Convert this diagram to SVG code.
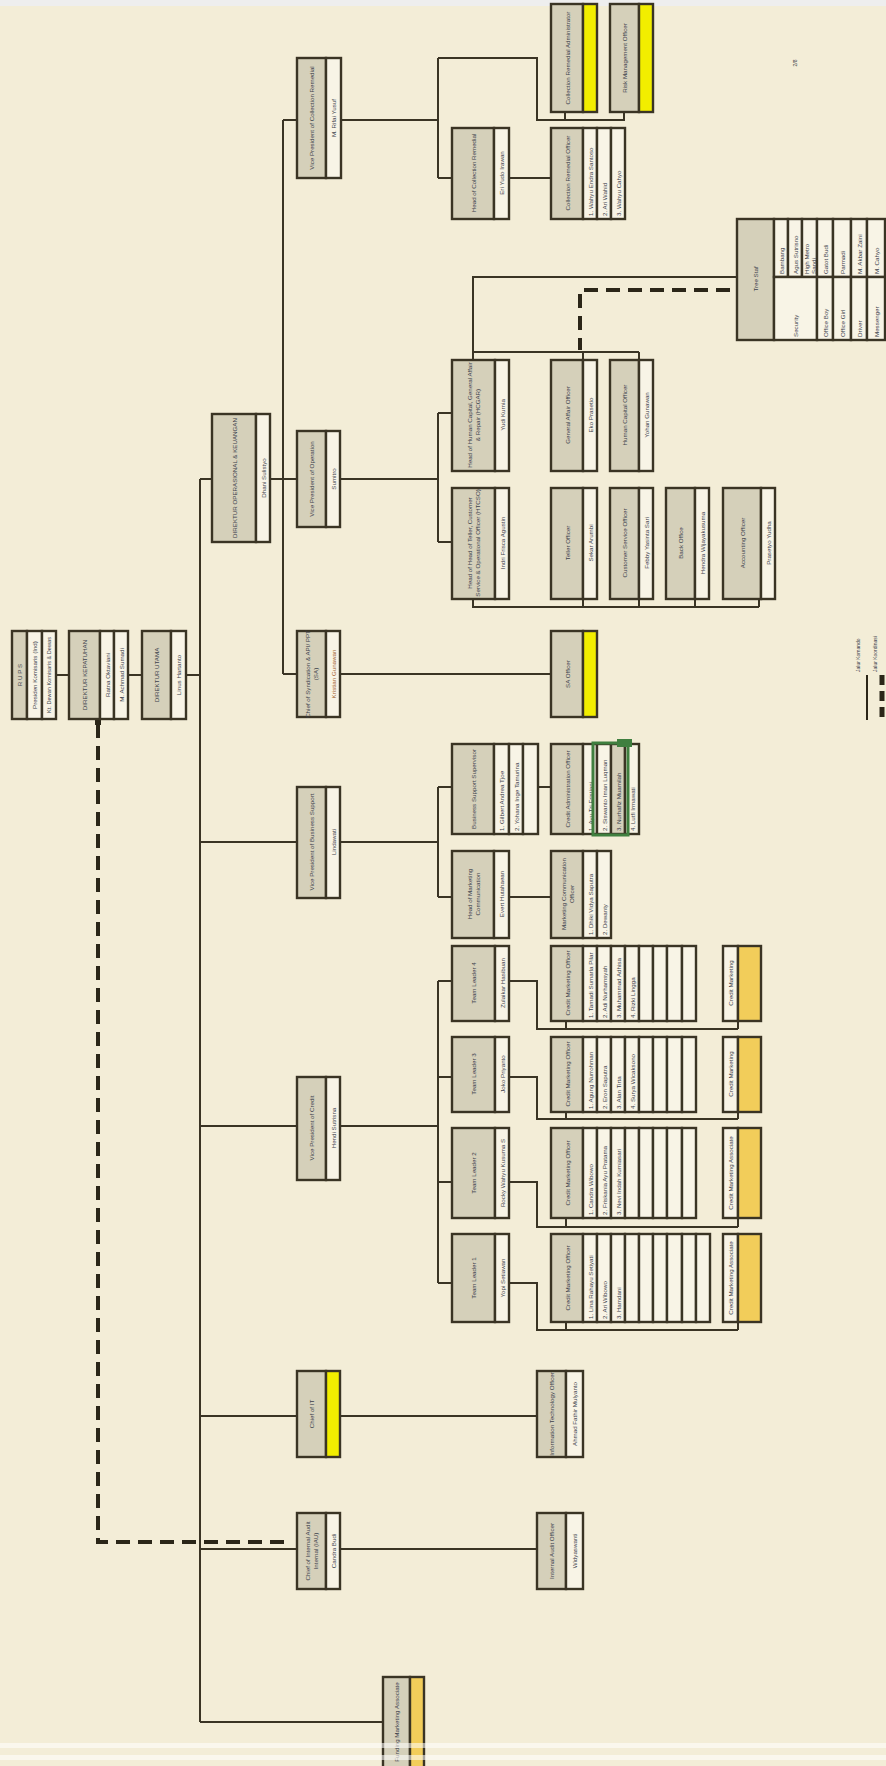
<svg xmlns="http://www.w3.org/2000/svg" width="886" height="1766" viewBox="0 0 886 1766">
<style>
.t{fill:#D5D0BA;stroke:#3a3424;stroke-width:2.4}
.n{fill:#F8F4E6;stroke:#3a3424;stroke-width:2.4}
.y{fill:#F2EE00;stroke:#3a3424;stroke-width:2.4}
.o{fill:#F2CD5A;stroke:#3a3424;stroke-width:2.4}
.ln{stroke:#3a3424;stroke-width:2;fill:none}
.dash{stroke:#2b2618;stroke-width:4;fill:none;stroke-dasharray:14 8}
text{font-family:"Liberation Sans Narrow","Liberation Sans",Arial,sans-serif;font-size:6.2px;fill:#3c3f4c;dominant-baseline:central}
.c{text-anchor:middle}
.s{text-anchor:start}
.or{fill:#a0602e}
</style>
<rect x="0" y="0" width="886" height="1766" fill="#F3EDD7"/>
<rect x="0" y="0" width="886" height="6" fill="#EEEEEE"/>
<g id="connectors">
<path class="ln" d="M56 675H69 M128 675H142 M186 675H200 M200 479V1722 M200 479H212 M270 479H297 M283 120V674 M283 120H297 M283 674H297"/>
<path class="ln" d="M341 120H438 M438 58V178 M438 58H537V120H625 M565 112V120 M624 112V120 M438 178H452 M509 178H551"/>
<path class="ln" d="M340 479H438 M438 413V542 M438 413H452 M438 542H452 M473 360V277H737 M473 352H639 M583 352V360 M639 352V360 M473 599V607H759 M583 599V607 M639 599V607 M695 599V607 M759 599V607"/>
<path class="ln" d="M340 674H551"/>
<path class="ln" d="M200 842H297 M340 842H438 M438 787V897 M438 787H452 M438 897H452 M538 787H551 M509 897H551"/>
<path class="ln" d="M200 1126H297 M340 1126H438 M438 981V1283 M438 981H452 M509 981H537V1029H738 M566 1021V1029 M738 1021V1029 M438 1077H452 M509 1077H537V1119H738 M566 1112V1119 M738 1112V1119 M438 1182H452 M509 1182H537V1227H738 M566 1218V1227 M738 1218V1227 M438 1283H452 M509 1283H537V1330H738 M566 1322V1330 M738 1322V1330"/>
<path class="ln" d="M200 1416H297 M340 1416H537 M200 1549H297 M340 1549H537 M200 1722H383"/>
<path class="dash" d="M98 724V1542H288"/>
<rect x="95" y="719" width="6" height="6" fill="#2b2618"/>
<path class="dash" d="M730 290H580V350"/>
</g>
<g id="rups"><rect class="t" x="12" y="631" width="15" height="88"/><rect class="n" x="27" y="631" width="15" height="88"/><rect class="n" x="42" y="631" width="14" height="88"/>
<text class="c" transform="translate(19.5,675) rotate(-90)">R U P S</text><text class="c" transform="translate(34.5,675) rotate(-90)">Presiden Komisaris (Ind)</text><text class="c" transform="translate(49,675) rotate(-90)" style="font-size:5.6px">Kt. Dewan Komisaris &amp; Dewas</text></g>
<g id="dir-kepatuhan"><rect class="t" x="69" y="631" width="31" height="88"/><rect class="n" x="100" y="631" width="14" height="88"/><rect class="n" x="114" y="631" width="14" height="88"/>
<text class="c" transform="translate(84.5,675) rotate(-90)">DIREKTUR KEPATUHAN</text><text class="c" transform="translate(107,675) rotate(-90)">Ratna Oktaviani</text><text class="c" transform="translate(121,675) rotate(-90)">M. Achmad Sumadi</text></g>
<g id="dir-utama"><rect class="t" x="142" y="631" width="29" height="88"/><rect class="n" x="171" y="631" width="15" height="88"/>
<text class="c" transform="translate(156.5,675) rotate(-90)">DIREKTUR UTAMA</text><text class="c" transform="translate(178.5,675) rotate(-90)">Linus Hartanto</text></g>
<g id="dir-ops"><rect class="t" x="212" y="414" width="44" height="128"/><rect class="n" x="256" y="414" width="14" height="128"/>
<text class="c" transform="translate(234,478) rotate(-90)">DIREKTUR OPERASIONAL &amp; KEUANGAN</text><text class="c" transform="translate(263,478) rotate(-90)">Dhani Sulistyo</text></g>
<g id="vp-collection"><rect class="t" x="297" y="58" width="29" height="120"/><rect class="n" x="326" y="58" width="15" height="120"/>
<text class="c" transform="translate(311.5,118) rotate(-90)">Vice President of Collection Remedial</text><text class="c" transform="translate(333.5,118) rotate(-90)">M. Rifai Yusuf</text></g>
<g id="coll-admin"><rect class="t" x="551" y="4" width="32" height="108"/><rect class="y" x="583" y="4" width="14" height="108"/>
<text class="c" transform="translate(567,58) rotate(-90)">Collection Remedial Administrator</text></g>
<g id="risk-mgmt"><rect class="t" x="610" y="4" width="29" height="108"/><rect class="y" x="639" y="4" width="14" height="108"/>
<text class="c" transform="translate(624.5,58) rotate(-90)">Risk Management Officer</text></g>
<g id="head-coll"><rect class="t" x="452" y="128" width="42" height="91"/><rect class="n" x="494" y="128" width="15" height="91"/>
<text class="c" transform="translate(473,173) rotate(-90)">Head of Collection Remedial</text><text class="c" transform="translate(501.5,173) rotate(-90)">Eri Yudo Irawan</text></g>
<g id="coll-officer"><rect class="t" x="551" y="128" width="32" height="91"/><rect class="n" x="583" y="128" width="14" height="91"/><rect class="n" x="597" y="128" width="14" height="91"/><rect class="n" x="611" y="128" width="14" height="91"/>
<text class="c" transform="translate(567,173) rotate(-90)">Collection Remedial Officer</text><text class="s" transform="translate(590,216) rotate(-90)">1. Wahyu Endra Santoso</text><text class="s" transform="translate(604,216) rotate(-90)">2. Ari Wahid</text><text class="s" transform="translate(618,216) rotate(-90)">3. Wahyu Cahyo</text></g>
<g id="vp-ops"><rect class="t" x="297" y="431" width="29" height="96"/><rect class="n" x="326" y="431" width="14" height="96"/>
<text class="c" transform="translate(311.5,479) rotate(-90)">Vice President of Operation</text><text class="c" transform="translate(333,479) rotate(-90)">Sumitro</text></g>
<g id="head-hcgar"><rect class="t" x="452" y="360" width="43" height="111"/><rect class="n" x="495" y="360" width="14" height="111"/>
<text class="c" transform="translate(469.5,415) rotate(-90)">Head of Human Capital, General Affair</text><text class="c" transform="translate(477.5,415) rotate(-90)">&amp; Repair (HCGAR)</text><text class="c" transform="translate(502,415) rotate(-90)">Yudi Kurnia</text></g>
<g id="ga-officer"><rect class="t" x="551" y="360" width="32" height="111"/><rect class="n" x="583" y="360" width="14" height="111"/>
<text class="c" transform="translate(567,415) rotate(-90)">General Affair Officer</text><text class="c" transform="translate(590,415) rotate(-90)">Eko Prasetio</text></g>
<g id="hc-officer"><rect class="t" x="610" y="360" width="29" height="111"/><rect class="n" x="639" y="360" width="14" height="111"/>
<text class="c" transform="translate(624.5,415) rotate(-90)">Human Capital Officer</text><text class="c" transform="translate(646,415) rotate(-90)">Yohan Gunawan</text></g>
<g id="head-htcso"><rect class="t" x="452" y="488" width="43" height="111"/><rect class="n" x="495" y="488" width="14" height="111"/>
<text class="c" transform="translate(469.5,543) rotate(-90)">Head of Head of Teller, Customer</text><text class="c" transform="translate(477.5,543) rotate(-90)">Service &amp; Operational Officer (HTCSO)</text><text class="c" transform="translate(502,543) rotate(-90)">Indri Frisca Agustin</text></g>
<g id="teller"><rect class="t" x="551" y="488" width="32" height="111"/><rect class="n" x="583" y="488" width="14" height="111"/>
<text class="c" transform="translate(567,543) rotate(-90)">Teller Officer</text><text class="c" transform="translate(590,543) rotate(-90)">Sekar Arumbi</text></g>
<g id="cs-officer"><rect class="t" x="610" y="488" width="29" height="111"/><rect class="n" x="639" y="488" width="14" height="111"/>
<text class="c" transform="translate(624.5,543) rotate(-90)">Customer Service Officer</text><text class="c" transform="translate(646,543) rotate(-90)">Febby Yasinta Sari</text></g>
<g id="back-office"><rect class="t" x="666" y="488" width="29" height="111"/><rect class="n" x="695" y="488" width="14" height="111"/>
<text class="c" transform="translate(680.5,543) rotate(-90)">Back Office</text><text class="c" transform="translate(702,543) rotate(-90)">Hendra Wijayakusuma</text></g>
<g id="accounting"><rect class="t" x="723" y="488" width="38" height="111"/><rect class="n" x="761" y="488" width="14" height="111"/>
<text class="c" transform="translate(742,543) rotate(-90)">Accounting Officer</text><text class="c" transform="translate(768,543) rotate(-90)">Prasetyo Yudha</text></g>
<g id="tree-staf"><rect class="t" x="737" y="219" width="37" height="121"/>
<rect class="n" x="774" y="219" width="14" height="58"/><rect class="n" x="788" y="219" width="14" height="58"/><rect class="n" x="802" y="219" width="15" height="58"/><rect class="n" x="817" y="219" width="16" height="58"/><rect class="n" x="833" y="219" width="18" height="58"/><rect class="n" x="851" y="219" width="16" height="58"/><rect class="n" x="867" y="219" width="18" height="58"/>
<rect class="n" x="774" y="277" width="43" height="63"/><rect class="n" x="817" y="277" width="16" height="63"/><rect class="n" x="833" y="277" width="18" height="63"/><rect class="n" x="851" y="277" width="16" height="63"/><rect class="n" x="867" y="277" width="18" height="63"/>
<text class="c" transform="translate(755.5,279) rotate(-90)">Tree Staf</text>
<text class="s" transform="translate(781,274) rotate(-90)">Bambang</text><text class="s" transform="translate(795,274) rotate(-90)">Agus Sutrisno</text><text class="s" transform="translate(806,274) rotate(-90)">High Metro</text><text class="s" transform="translate(813,274) rotate(-90)">Sandi</text><text class="s" transform="translate(825,274) rotate(-90)">Gatot Budi</text><text class="s" transform="translate(842,274) rotate(-90)">Parmadi</text><text class="s" transform="translate(859,274) rotate(-90)">M. Akbar Zaini</text><text class="s" transform="translate(876,274) rotate(-90)">M. Cahyo</text>
<text class="s" transform="translate(795.5,337) rotate(-90)">Security</text><text class="s" transform="translate(825,337) rotate(-90)">Office Boy</text><text class="s" transform="translate(842,337) rotate(-90)">Office Girl</text><text class="s" transform="translate(859,337) rotate(-90)">Driver</text><text class="s" transform="translate(876,337) rotate(-90)">Messenger</text></g>
<g id="chief-syndication"><rect class="t" x="297" y="631" width="29" height="86"/><rect class="n" x="326" y="631" width="14" height="86"/>
<text class="c" transform="translate(307.5,674) rotate(-90)">Chief of Syndication &amp; API/ PPT</text><text class="c" transform="translate(315.5,674) rotate(-90)">(SA)</text><text class="c or" transform="translate(333,674) rotate(-90)">Kristian Gunawan</text></g>
<g id="sa-officer"><rect class="t" x="551" y="631" width="32" height="86"/><rect class="y" x="583" y="631" width="14" height="86"/>
<text class="c" transform="translate(567,674) rotate(-90)">SA Officer</text></g>
<g id="vp-bs"><rect class="t" x="297" y="787" width="29" height="111"/><rect class="n" x="326" y="787" width="14" height="111"/>
<text class="c" transform="translate(311.5,842) rotate(-90)">Vice President of Business Support</text><text class="c" transform="translate(333,842) rotate(-90)">Lindawati</text></g>
<g id="bs-supervisor"><rect class="t" x="452" y="744" width="42" height="90"/><rect class="n" x="494" y="744" width="15" height="90"/><rect class="n" x="509" y="744" width="14" height="90"/><rect class="n" x="523" y="744" width="15" height="90"/>
<text class="c" transform="translate(473,789) rotate(-90)">Business Support Supervisor</text><text class="s" transform="translate(501.5,831) rotate(-90)">1. Gilbert Andrea Tjoe</text><text class="s" transform="translate(516,831) rotate(-90)">2. Yohana Inge Tamurina</text></g>
<g id="credit-admin"><rect class="t" x="551" y="744" width="32" height="90"/><rect class="n" x="583" y="744" width="14" height="90"/><rect class="n" x="597" y="744" width="14" height="90"/><rect class="t" x="611" y="744" width="14" height="90"/><rect class="n" x="625" y="744" width="14" height="90"/>
<text class="c" transform="translate(567,789) rotate(-90)">Credit Administration Officer</text><text class="s" transform="translate(590,831) rotate(-90)">1. Ayu Tri Fristiani</text><text class="s" transform="translate(604,831) rotate(-90)">2. Siswanto Iman Luqman</text><text class="s" transform="translate(618,831) rotate(-90)">3. Nurhafiz Muamilah</text><text class="s" transform="translate(632,831) rotate(-90)">4. Lutfi Irmawati</text>
<rect x="593" y="743" width="35" height="92" fill="none" stroke="#3f7f3f" stroke-width="3"/><rect x="617" y="739" width="15" height="8" fill="#3f7f3f"/></g>
<g id="head-mktcomm"><rect class="t" x="452" y="851" width="42" height="87"/><rect class="n" x="494" y="851" width="15" height="87"/>
<text class="c" transform="translate(469,894) rotate(-90)">Head of Marketing</text><text class="c" transform="translate(477,894) rotate(-90)">Communication</text><text class="c" transform="translate(501.5,894) rotate(-90)">Evert Hutahaean</text></g>
<g id="mktcomm-officer"><rect class="t" x="551" y="851" width="32" height="87"/><rect class="n" x="583" y="851" width="14" height="87"/><rect class="n" x="597" y="851" width="14" height="87"/>
<text class="c" transform="translate(563,894) rotate(-90)">Marketing Communication</text><text class="c" transform="translate(571,894) rotate(-90)">Officer</text><text class="s" transform="translate(590,935) rotate(-90)">1. Dhiki Vidya Saputra</text><text class="s" transform="translate(604,935) rotate(-90)">2. Dewanty</text></g>
<g id="vp-credit"><rect class="t" x="297" y="1077" width="29" height="103"/><rect class="n" x="326" y="1077" width="14" height="103"/>
<text class="c" transform="translate(311.5,1128) rotate(-90)">Vice President of Credit</text><text class="c" transform="translate(333,1128) rotate(-90)">Hendi Sutrisna</text></g>
<g id="tl4"><rect class="t" x="452" y="946" width="43" height="75"/><rect class="n" x="495" y="946" width="14" height="75"/>
<text class="c" transform="translate(473.5,983) rotate(-90)">Team Leader 4</text><text class="c" transform="translate(502,983) rotate(-90)">Zulaikar Hasibuan</text></g>
<g id="cmo4"><rect class="t" x="551" y="946" width="32" height="75"/><rect class="n" x="583" y="946" width="14" height="75"/><rect class="n" x="597" y="946" width="14" height="75"/><rect class="n" x="611" y="946" width="14" height="75"/><rect class="n" x="625" y="946" width="14" height="75"/><rect class="n" x="639" y="946" width="14" height="75"/><rect class="n" x="653" y="946" width="14" height="75"/><rect class="n" x="667" y="946" width="15" height="75"/><rect class="n" x="682" y="946" width="14" height="75"/>
<text class="c" transform="translate(567,983) rotate(-90)">Credit Marketing Officer</text><text class="s" transform="translate(590,1018) rotate(-90)">1. Tamadi Sumarla Pilar</text><text class="s" transform="translate(604,1018) rotate(-90)">2. Adi Nurhamsyah</text><text class="s" transform="translate(618,1018) rotate(-90)">3. Muhammad Adhisa</text><text class="s" transform="translate(632,1018) rotate(-90)">4. Rizki Lingga</text></g>
<g id="cma4"><rect class="n" x="723" y="946" width="15" height="75"/><rect class="o" x="738" y="946" width="23" height="75"/>
<text class="c" transform="translate(730.5,983) rotate(-90)">Credit Marketing</text></g>
<g id="tl3"><rect class="t" x="452" y="1037" width="43" height="75"/><rect class="n" x="495" y="1037" width="14" height="75"/>
<text class="c" transform="translate(473.5,1074) rotate(-90)">Team Leader 3</text><text class="c" transform="translate(502,1074) rotate(-90)">Joko Priyanto</text></g>
<g id="cmo3"><rect class="t" x="551" y="1037" width="32" height="75"/><rect class="n" x="583" y="1037" width="14" height="75"/><rect class="n" x="597" y="1037" width="14" height="75"/><rect class="n" x="611" y="1037" width="14" height="75"/><rect class="n" x="625" y="1037" width="14" height="75"/><rect class="n" x="639" y="1037" width="14" height="75"/><rect class="n" x="653" y="1037" width="14" height="75"/><rect class="n" x="667" y="1037" width="15" height="75"/><rect class="n" x="682" y="1037" width="14" height="75"/>
<text class="c" transform="translate(567,1074) rotate(-90)">Credit Marketing Officer</text><text class="s" transform="translate(590,1109) rotate(-90)">1. Agung Nurrohman</text><text class="s" transform="translate(604,1109) rotate(-90)">2. Eron Saputra</text><text class="s" transform="translate(618,1109) rotate(-90)">3. Alan Tirta</text><text class="s" transform="translate(632,1109) rotate(-90)">4. Surya Wicaksono</text></g>
<g id="cma3"><rect class="n" x="723" y="1037" width="15" height="75"/><rect class="o" x="738" y="1037" width="23" height="75"/>
<text class="c" transform="translate(730.5,1074) rotate(-90)">Credit Marketing</text></g>
<g id="tl2"><rect class="t" x="452" y="1128" width="43" height="90"/><rect class="n" x="495" y="1128" width="14" height="90"/>
<text class="c" transform="translate(473.5,1173) rotate(-90)">Team Leader 2</text><text class="c" transform="translate(502,1173) rotate(-90)">Rocky Wahyu Kusuma S</text></g>
<g id="cmo2"><rect class="t" x="551" y="1128" width="32" height="90"/><rect class="n" x="583" y="1128" width="14" height="90"/><rect class="n" x="597" y="1128" width="14" height="90"/><rect class="n" x="611" y="1128" width="14" height="90"/><rect class="n" x="625" y="1128" width="14" height="90"/><rect class="n" x="639" y="1128" width="14" height="90"/><rect class="n" x="653" y="1128" width="14" height="90"/><rect class="n" x="667" y="1128" width="15" height="90"/><rect class="n" x="682" y="1128" width="14" height="90"/>
<text class="c" transform="translate(567,1173) rotate(-90)">Credit Marketing Officer</text><text class="s" transform="translate(590,1215) rotate(-90)">1. Candra Wibowo</text><text class="s" transform="translate(604,1215) rotate(-90)">2. Friskania Ayu Pratama</text><text class="s" transform="translate(618,1215) rotate(-90)">3. Nevi Indah Kurniasari</text></g>
<g id="cma2"><rect class="n" x="723" y="1128" width="15" height="90"/><rect class="o" x="738" y="1128" width="23" height="90"/>
<text class="c" transform="translate(730.5,1173) rotate(-90)">Credit Marketing Associate</text></g>
<g id="tl1"><rect class="t" x="452" y="1234" width="43" height="88"/><rect class="n" x="495" y="1234" width="14" height="88"/>
<text class="c" transform="translate(473.5,1278) rotate(-90)">Team Leader 1</text><text class="c" transform="translate(502,1278) rotate(-90)">Yopi Setiawan</text></g>
<g id="cmo1"><rect class="t" x="551" y="1234" width="32" height="88"/><rect class="n" x="583" y="1234" width="14" height="88"/><rect class="n" x="597" y="1234" width="14" height="88"/><rect class="n" x="611" y="1234" width="14" height="88"/><rect class="n" x="625" y="1234" width="14" height="88"/><rect class="n" x="639" y="1234" width="14" height="88"/><rect class="n" x="653" y="1234" width="14" height="88"/><rect class="n" x="667" y="1234" width="15" height="88"/><rect class="n" x="682" y="1234" width="14" height="88"/><rect class="n" x="696" y="1234" width="14" height="88"/>
<text class="c" transform="translate(567,1278) rotate(-90)">Credit Marketing Officer</text><text class="s" transform="translate(590,1319) rotate(-90)">1. Lina Rahayu Setiyati</text><text class="s" transform="translate(604,1319) rotate(-90)">2. Ari Wibowo</text><text class="s" transform="translate(618,1319) rotate(-90)">3. Hamdani</text></g>
<g id="cma1"><rect class="n" x="723" y="1234" width="15" height="88"/><rect class="o" x="738" y="1234" width="23" height="88"/>
<text class="c" transform="translate(730.5,1278) rotate(-90)">Credit Marketing Associate</text></g>
<g id="chief-it"><rect class="t" x="297" y="1371" width="29" height="86"/><rect class="y" x="326" y="1371" width="14" height="86"/>
<text class="c" transform="translate(311.5,1414) rotate(-90)">Chief of IT</text></g>
<g id="it-officer"><rect class="t" x="537" y="1371" width="29" height="86"/><rect class="n" x="566" y="1371" width="17" height="86"/>
<text class="c" transform="translate(551.5,1414) rotate(-90)">Information Technology Officer</text><text class="c" transform="translate(574.5,1414) rotate(-90)">Ahmad Fathir Mulyanto</text></g>
<g id="chief-ia"><rect class="t" x="297" y="1513" width="29" height="76"/><rect class="n" x="326" y="1513" width="14" height="76"/>
<text class="c" transform="translate(307.5,1551) rotate(-90)">Chief of Internal Audit</text><text class="c" transform="translate(315.5,1551) rotate(-90)">Internal (IAU)</text><text class="c" transform="translate(333,1551) rotate(-90)">Candra Budi</text></g>
<g id="ia-officer"><rect class="t" x="537" y="1513" width="29" height="76"/><rect class="n" x="566" y="1513" width="17" height="76"/>
<text class="c" transform="translate(551.5,1551) rotate(-90)">Internal Audit Officer</text><text class="c" transform="translate(574.5,1551) rotate(-90)">Widyaswanti</text></g>
<g id="funding"><rect class="t" x="383" y="1677" width="27" height="100"/><rect class="o" x="410" y="1677" width="14" height="100"/>
<text class="c" transform="translate(396.5,1722) rotate(-90)">Funding Marketing Associate</text></g>
<g id="legend">
<text class="s" transform="translate(858,672) rotate(-90)" style="font-size:5px">Jalur Komando</text>
<text class="s" transform="translate(875,672) rotate(-90)" style="font-size:5px">Jalur Koordinasi</text>
<line x1="867" y1="675" x2="867" y2="720" stroke="#2b2618" stroke-width="2"/>
<line x1="882" y1="675" x2="882" y2="720" stroke="#2b2618" stroke-width="5" stroke-dasharray="10 6"/>
</g>
<text class="c" transform="translate(795,63) rotate(-90)" style="font-size:5px">2/8</text>
<rect x="0" y="1743" width="886" height="5" fill="#ffffff" opacity="0.55"/>
<rect x="0" y="1755" width="886" height="5" fill="#ffffff" opacity="0.55"/>
</svg>
